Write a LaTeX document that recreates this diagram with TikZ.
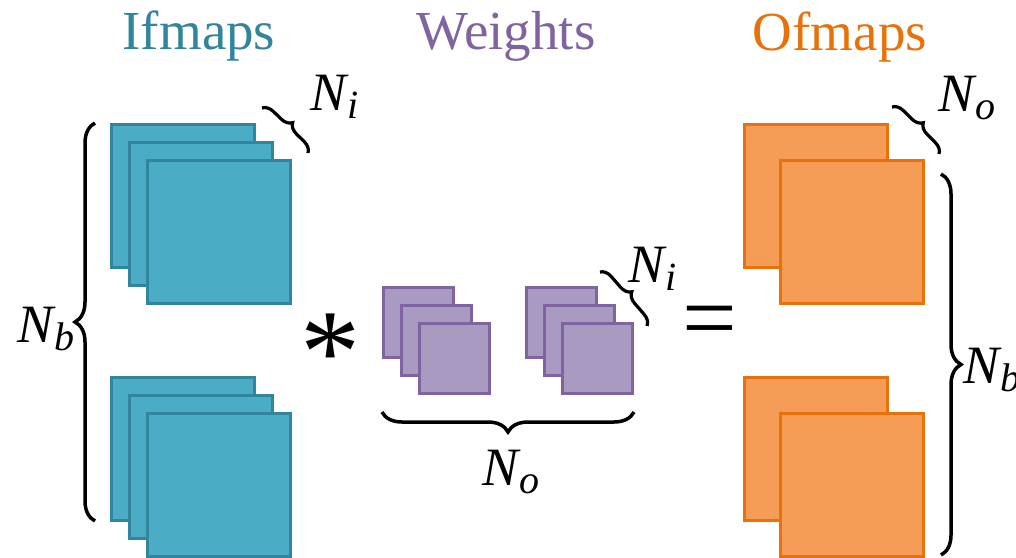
\documentclass[tikz,border=0pt]{standalone}
\usepackage{fontspec}
\setmainfont{Liberation Serif}
\usetikzlibrary{decorations.pathreplacing}
\definecolor{ifc}{HTML}{31859C}
\definecolor{iff}{HTML}{4BACC6}
\definecolor{wc}{HTML}{8064A2}
\definecolor{wf}{HTML}{A99AC1}
\definecolor{oc}{HTML}{E8710A}
\definecolor{of}{HTML}{F59D57}
\newcommand\Nsub[1]{\textit{N}\kern-0.02em\raisebox{-8pt}{\fontsize{40}{40}\selectfont\textit{#1}}}
\begin{document}
\begin{tikzpicture}[x=1pt,y=-1pt,
  ifsq/.style={draw=ifc,fill=iff,line width=3pt,minimum size=143pt,inner sep=0pt},
  wsq/.style={draw=wc,fill=wf,line width=3pt,minimum size=70pt,inner sep=0pt},
  osq/.style={draw=oc,fill=of,line width=3pt,minimum size=143pt,inner sep=0pt},
  title/.style={font=\fontsize{55}{60}\selectfont,anchor=base},
  lbl/.style={font=\fontsize{54}{60}\selectfont,anchor=base west,inner sep=0pt},
  bigbrace/.style={decorate,decoration={brace,amplitude=20pt},line width=3.5pt},
  smallbrace/.style={decorate,decoration={brace,amplitude=11pt},line width=3.2pt}]
\useasboundingbox (0,0) rectangle (1016,557);
% titles
\node[title,text=ifc] (tif) at (199,49) {Ifmaps};
\node[title,text=wc] (tw) at (506,49) {Weights};
\node[title,text=oc] (tof) at (840,50) {Ofmaps};
% ifmaps top stack
\node[ifsq] (i1a) at (183,196) {};
\node[ifsq] (i1b) at (201,214) {};
\node[ifsq] (i1c) at (219,232) {};
% ifmaps bottom stack
\node[ifsq] (i2a) at (183,449) {};
\node[ifsq] (i2b) at (201,467) {};
\node[ifsq] (i2c) at (219,485) {};
% weights
\node[wsq] (w1a) at (418.5,322) {};
\node[wsq] (w1b) at (436.5,340) {};
\node[wsq] (w1c) at (454.5,358) {};
\node[wsq] (w2a) at (561,322) {};
\node[wsq] (w2b) at (579,340) {};
\node[wsq] (w2c) at (597,358) {};
% ofmaps
\node[osq] (o1a) at (815.5,196) {};
\node[osq] (o1b) at (851.5,232) {};
\node[osq] (o2a) at (815.5,449) {};
\node[osq] (o2b) at (851.5,485) {};
% operators
\node[font=\fontsize{120}{120}\selectfont,inner sep=0pt,anchor=base] (ast) at (330,392) {*};
\node[font=\fontsize{97}{97}\selectfont,inner sep=0pt,anchor=base] (eq) at (709.5,350) {=};
% braces
\coordinate (lb1) at (95,521);
\coordinate (lb2) at (95,123);
\draw[bigbrace] (lb1) -- (lb2);
\coordinate (rb1) at (941,174);
\coordinate (rb2) at (941,555);
\draw[bigbrace] (rb1) -- (rb2);
\coordinate (bb1) at (634,412);
\coordinate (bb2) at (382,412);
\draw[bigbrace] (bb1) -- (bb2);
\coordinate (s1a) at (262,108);
\coordinate (s1b) at (308,153);
\draw[smallbrace] (s1a) -- (s1b);
\coordinate (s2a) at (600,272);
\coordinate (s2b) at (647,326);
\draw[smallbrace] (s2a) -- (s2b);
\coordinate (s3a) at (892,107);
\coordinate (s3b) at (939,154);
\draw[smallbrace] (s3a) -- (s3b);
% labels
\node[lbl] (ni1) at (310,110) {\Nsub{i}};
\node[lbl] (ni2) at (628,282) {\Nsub{i}};
\node[lbl] (no1) at (482,485) {\Nsub{o}};
\node[lbl] (no2) at (938,111) {\Nsub{o}};
\node[lbl] (nb1) at (17,342) {\Nsub{b}};
\node[lbl] (nb2) at (963,383) {\Nsub{b}};
\end{tikzpicture}
\end{document}
